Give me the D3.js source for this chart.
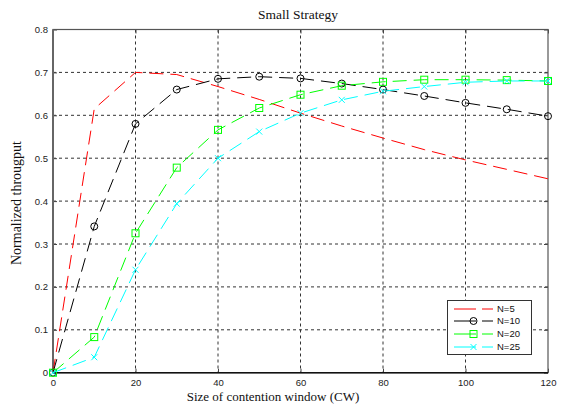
<!DOCTYPE html>
<html><head><meta charset="utf-8">
<script src="https://cdn.jsdelivr.net/npm/d3@7"></script>
<style>body{margin:0;background:#fff;} svg{display:block;}</style>
</head><body>
<script>
const cw = [0,10,20,30,40,50,60,70,80,90,100,110,120];
const n5  = [0,0.615,0.700,0.695,0.667,0.637,0.605,0.575,0.547,0.520,0.496,0.474,0.452];
const n10 = [0,0.341,0.580,0.660,0.685,0.690,0.686,0.674,0.660,0.645,0.629,0.614,0.598];
const n20 = [0,0.083,0.325,0.478,0.566,0.617,0.648,0.669,0.678,0.683,0.683,0.682,0.680];
const n25 = [0,0.036,0.240,0.394,0.500,0.562,0.605,0.636,0.656,0.667,0.677,0.680,0.680];
const xTicks = [0,20,40,60,80,100,120];
const yTicks = [0,0.1,0.2,0.3,0.4,0.5,0.6,0.7,0.8];
const seriesNames = ["N=5","N=10","N=20","N=25"];
const seriesColors = ["#ff0000","#000000","#00ff00","#00ffff"];
const seriesMarkers = ["none","circle","square","x"];
const seriesData = [n5,n10,n20,n25];

const W=563,H=407;
const L=53,R=548,T=29.5,B=372.7;
const svg=d3.select("body").append("svg").attr("width",W).attr("height",H);
const x=d3.scaleLinear().domain([0,120]).range([L,R]);
const y=d3.scaleLinear().domain([0,0.8]).range([B,T]);

// grid
const grid=svg.append("g").attr("stroke","#333").attr("stroke-width",1).attr("stroke-dasharray","3,3");
xTicks.slice(1,-1).forEach(v=>grid.append("line").attr("x1",x(v)).attr("x2",x(v)).attr("y1",T).attr("y2",B));
yTicks.slice(1,-1).forEach(v=>grid.append("line").attr("x1",L).attr("x2",R).attr("y1",y(v)).attr("y2",y(v)));

// axes with inward ticks
const fmt=d=>d===0?"0":d3.format(".1f")(d);
const ax=svg.append("g").attr("transform",`translate(0,${B})`).call(d3.axisBottom(x).tickValues(xTicks).tickSize(-4).tickPadding(6.5));
const ay=svg.append("g").attr("transform",`translate(${L},0)`).call(d3.axisLeft(y).tickValues(yTicks).tickSize(-4).tickPadding(5).tickFormat(fmt));
const axT=svg.append("g").attr("transform",`translate(0,${T})`).call(d3.axisTop(x).tickValues(xTicks).tickSize(-4).tickFormat(""));
const ayR=svg.append("g").attr("transform",`translate(${R},0)`).call(d3.axisRight(y).tickValues(yTicks).tickSize(-4).tickFormat(""));
[ax,ay,axT,ayR].forEach(g=>{g.select(".domain").remove();g.selectAll("line").attr("stroke","#444");
  g.selectAll("text").attr("font-family","Liberation Sans, Arial, sans-serif").attr("font-size",9.5).attr("fill","#222");});
// box
svg.append("rect").attr("x",L).attr("y",T).attr("width",R-L).attr("height",B-T).attr("fill","none").attr("stroke","#555").attr("stroke-width",1.2);
svg.append("line").attr("x1",L).attr("x2",L).attr("y1",T).attr("y2",B).attr("stroke","#666").attr("stroke-width",2);
svg.append("line").attr("x1",L).attr("x2",R).attr("y1",B).attr("y2",B).attr("stroke","#111").attr("stroke-width",1.5);

// series
const line=d3.line().x((d,i)=>x(cw[i])).y(d=>y(d));
function marker(g,type,cx,cy,color){
  if(type==="circle") g.append("circle").attr("cx",cx).attr("cy",cy).attr("r",3.5).attr("fill","none").attr("stroke",color).attr("stroke-width",1);
  else if(type==="square") g.append("rect").attr("x",cx-3.5).attr("y",cy-3.5).attr("width",7).attr("height",7).attr("fill","none").attr("stroke",color).attr("stroke-width",1);
  else if(type==="x"){ g.append("path").attr("d",`M${cx-3},${cy-3}L${cx+3},${cy+3}M${cx-3},${cy+3}L${cx+3},${cy-3}`).attr("stroke",color).attr("stroke-width",1);}
}
seriesData.forEach((data,k)=>{
  const g=svg.append("g");
  g.append("path").attr("d",line(data)).attr("fill","none").attr("stroke",seriesColors[k]).attr("stroke-width",1).attr("stroke-dasharray","14,7");
  if(seriesMarkers[k]!=="none") data.forEach((v,i)=>marker(g,seriesMarkers[k],x(cw[i]),y(v),seriesColors[k]));
});

// legend
const lg=svg.append("g");
lg.append("rect").attr("x",447.5).attr("y",300.5).attr("width",84).attr("height",54).attr("fill","#fff").attr("stroke","#333").attr("stroke-width",1);
const ly=[309,321,334,347];
seriesNames.forEach((n,k)=>{
  lg.append("line").attr("x1",454).attr("x2",493).attr("y1",ly[k]).attr("y2",ly[k]).attr("stroke",seriesColors[k]).attr("stroke-width",1).attr("stroke-dasharray","22,6");
  if(seriesMarkers[k]!=="none") marker(lg,seriesMarkers[k],473.5,ly[k],seriesColors[k]);
  lg.append("text").attr("x",497).attr("y",ly[k]).attr("dy","0.35em").attr("font-family","Liberation Sans, Arial, sans-serif").attr("font-size",9.5).attr("fill","#111").text(n);
});

// titles
svg.append("text").attr("x",298).attr("y",19).attr("text-anchor","middle").attr("font-family","Liberation Serif, Times New Roman, serif").attr("font-size",13.5).attr("fill","#111").text("Small Strategy");
svg.append("text").attr("x",273).attr("y",401).attr("text-anchor","middle").attr("font-family","Liberation Serif, Times New Roman, serif").attr("font-size",13).attr("fill","#111").text("Size of contention window (CW)");
svg.append("text").attr("transform","translate(21,203) rotate(-90)").attr("text-anchor","middle").attr("font-family","Liberation Serif, Times New Roman, serif").attr("font-size",14).attr("fill","#111").text("Normalized througput");
</script>
</body></html>
